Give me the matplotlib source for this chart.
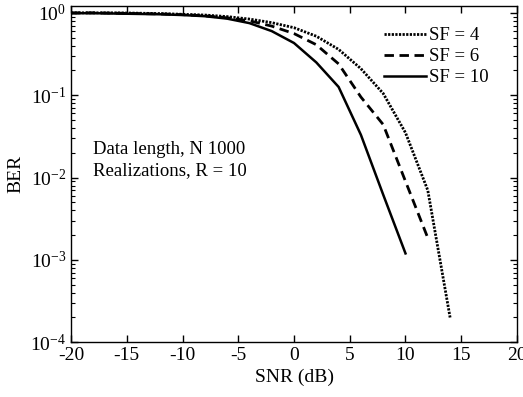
import math
import matplotlib
matplotlib.use("Agg")
import matplotlib.pyplot as plt
from matplotlib.ticker import LogLocator, FixedLocator, FuncFormatter

plt.rcParams['font.family'] = ['Liberation Serif', 'DejaVu Serif']
plt.rcParams['mathtext.fontset'] = 'custom'
plt.rcParams['mathtext.rm'] = 'Liberation Serif'
plt.rcParams['mathtext.it'] = 'Liberation Serif:italic'
plt.rcParams['axes.unicode_minus'] = False

# SNR points (dB)
snr_sf4 = [-20, -18, -16, -14, -12, -10, -8, -6, -4, -2, 0, 2, 4, 6, 8, 10, 12, 14]
snr_sf6 = [-20, -18, -16, -14, -12, -10, -8, -6, -4, -2, 0, 2, 4, 6, 8, 10, 12]
snr_sf10 = [-20, -18, -16, -14, -12, -10, -8, -6, -4, -2, 0, 2, 4, 6, 8, 10]

ber_sf4 = [1.0, 1.0, 1.0, 0.99, 0.98, 0.96, 0.94, 0.90, 0.84, 0.76, 0.66, 0.52, 0.36,
           0.21, 0.105, 0.035, 0.007, 2e-4]
ber_sf6 = [1.0, 1.0, 0.99, 0.98, 0.97, 0.95, 0.92, 0.87, 0.80, 0.69, 0.56, 0.41, 0.24,
           0.095, 0.044, 0.009, 1.85e-3]
ber_sf10 = [0.99, 0.99, 0.98, 0.97, 0.96, 0.94, 0.91, 0.85, 0.75, 0.60, 0.43, 0.25, 0.126,
            0.033, 0.0062, 1.2e-3]

xticks = [-20, -15, -10, -5, 0, 5, 10, 15, 20]

fig = plt.figure(figsize=(5.23, 3.97), dpi=100)
ax = fig.add_axes([0.1358, 0.1378, 0.8527, 0.8478])

ax.semilogy(snr_sf4, ber_sf4, color="black", linestyle=(0, (0.8, 0.5)), linewidth=2.0, label="SF = 4")
ax.semilogy(snr_sf6, ber_sf6, color="black", linestyle=(0, (3.4, 2.0)), linewidth=2.0, label="SF = 6")
ax.semilogy(snr_sf10, ber_sf10, color="black", linestyle="-", linewidth=1.8, label="SF = 10")

ax.set_xlim(-20, 20)
ax.set_ylim(1e-4, 1.22)
ax.xaxis.set_major_locator(FixedLocator(xticks))
ax.yaxis.set_major_locator(LogLocator(base=10, numticks=10))
ax.yaxis.set_minor_locator(LogLocator(base=10, subs=range(2, 10), numticks=20))
ax.yaxis.set_major_formatter(FuncFormatter(lambda v, p: r"$10^{%d}$" % round(math.log10(v))))
ax.yaxis.set_minor_formatter(FuncFormatter(lambda v, p: ""))

ax.tick_params(which="both", direction="in", top=True, right=True, labelsize=14)
ax.tick_params(which="major", length=5, width=1)
ax.tick_params(which="minor", length=3, width=0.8)
for s in ax.spines.values():
    s.set_linewidth(1.0)

ax.set_xlabel("SNR (dB)", fontsize=14, labelpad=3)
ax.set_ylabel("BER", fontsize=14)

ax.text(-18, 0.0163, "Data length, N 1000\nRealizations, R = 10", fontsize=13.5,
        linespacing=1.28, va="center", ha="left")

ax.legend(loc="upper left", bbox_to_anchor=(0.684, 0.958), frameon=False, fontsize=13.5,
          handlelength=2.25, handletextpad=0.15, labelspacing=0.2, borderaxespad=0.0)

fig.savefig("out.png", dpi=100)
